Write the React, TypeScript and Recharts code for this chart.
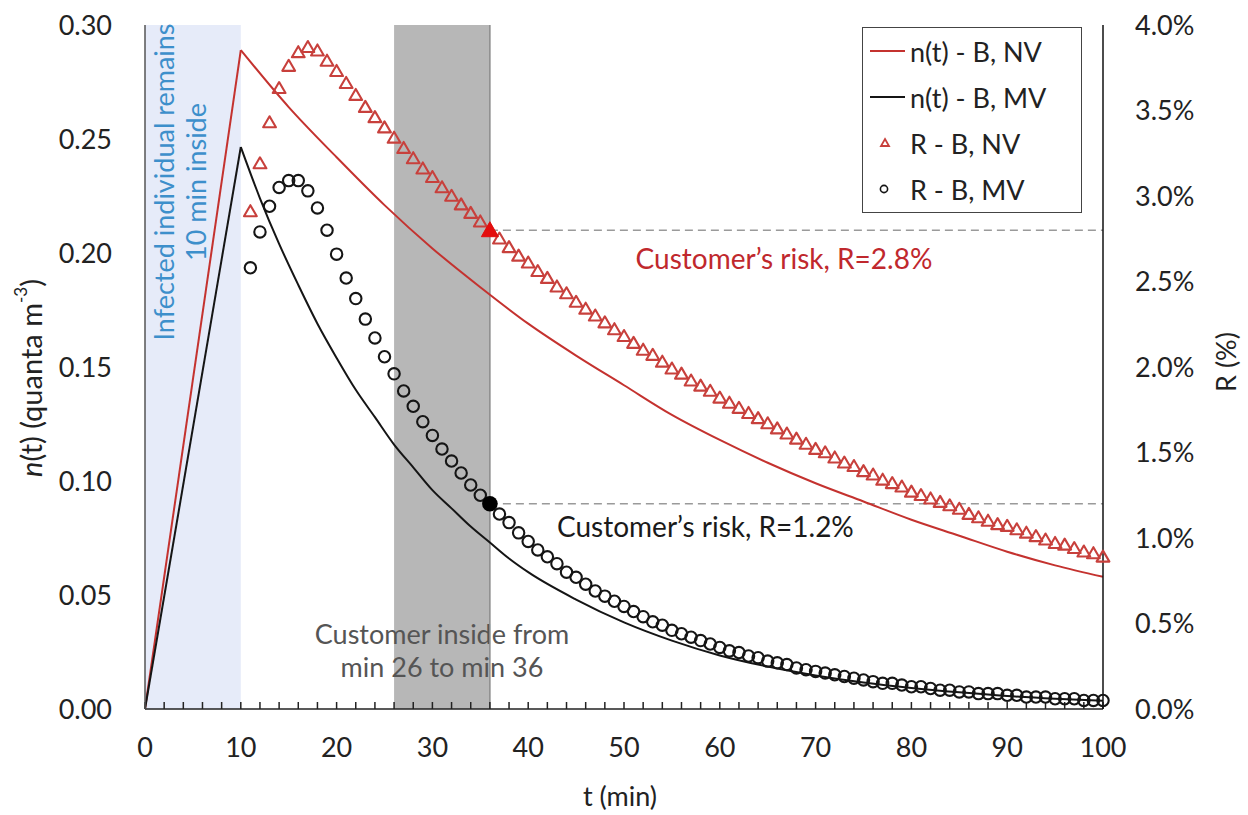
import React from 'react';
import {
  ComposedChart, Line, Scatter, XAxis, YAxis, ReferenceArea, ReferenceLine, ReferenceDot, Legend,
} from 'recharts';

const FONT = 'Lato, "Open Sans", sans-serif';
const RED = '#c4322f';
const RED_MARK = '#c8403c';
const BLACK = '#151515';

// x-axis ticks (minutes) and axis tick values
const X_TICKS = [0, 2, 4, 6, 8, 10, 12, 14, 16, 18, 20, 22, 24, 26, 28, 30, 32, 34, 36, 38, 40, 42, 44, 46, 48, 50,
  52, 54, 56, 58, 60, 62, 64, 66, 68, 70, 72, 74, 76, 78, 80, 82, 84, 86, 88, 90, 92, 94, 96, 98, 100];
const LEFT_TICKS = [0, 0.05, 0.1, 0.15, 0.2, 0.25, 0.3];
const RIGHT_TICKS = [0, 0.5, 1, 1.5, 2, 2.5, 3, 3.5, 4];

// n(t) - B, NV  (quanta m^-3): rise while infected is inside, then decay
const NV_RISE_T = [0, 10];
const NV_RISE_N = [0, 0.289];
const NV_DECAY_T = [10, 15, 20, 25, 30, 35, 40, 45, 50, 55, 60, 65, 70, 75, 80, 85, 90, 95, 100];
const NV_DECAY_N = [0.289, 0.264, 0.242, 0.221, 0.202, 0.185, 0.169, 0.155, 0.142, 0.129, 0.118, 0.108, 0.099,
  0.091, 0.083, 0.076, 0.069, 0.063, 0.058];

// n(t) - B, MV
const MV_RISE_T = [0, 10];
const MV_RISE_N = [0, 0.2465];
const MV_DECAY_T = [10, 12, 14, 16, 18, 20, 22, 24, 26, 28, 30, 32, 34, 36, 38, 40, 45, 50, 55, 60, 65, 70, 75,
  80, 85, 90, 95, 100];
const MV_DECAY_N = [0.2465, 0.224, 0.204, 0.186, 0.169, 0.154, 0.140, 0.128, 0.116, 0.106, 0.096, 0.088, 0.080,
  0.073, 0.066, 0.060, 0.048, 0.038, 0.030, 0.0235, 0.0186, 0.0147, 0.0116, 0.0092, 0.0073, 0.0057, 0.0045, 0.0036];

// R markers, one per minute from 11 to 100 (%)
const R_START_MIN = 11;
const R_NV = [
  2.91, 3.19, 3.43, 3.63, 3.76, 3.84, 3.87, 3.85, 3.79, 3.73,
  3.66, 3.59, 3.52, 3.46, 3.40, 3.34, 3.28, 3.22, 3.16, 3.11,
  3.05, 3.00, 2.95, 2.90, 2.85, 2.80, 2.75, 2.70, 2.65, 2.61,
  2.56, 2.52, 2.47, 2.43, 2.38, 2.34, 2.30, 2.26, 2.22, 2.18,
  2.14, 2.10, 2.07, 2.03, 1.99, 1.96, 1.92, 1.89, 1.86, 1.82,
  1.79, 1.76, 1.73, 1.70, 1.67, 1.64, 1.61, 1.58, 1.55, 1.52,
  1.50, 1.47, 1.44, 1.42, 1.39, 1.37, 1.34, 1.32, 1.30, 1.27,
  1.25, 1.23, 1.21, 1.19, 1.17, 1.14, 1.12, 1.10, 1.08, 1.07,
  1.05, 1.03, 1.01, 0.99, 0.97, 0.96, 0.94, 0.92, 0.91, 0.89,
];
const R_MV = [
  2.58, 2.79, 2.94, 3.05, 3.09, 3.09, 3.03, 2.93, 2.80, 2.66,
  2.52, 2.40, 2.28, 2.17, 2.06, 1.96, 1.86, 1.77, 1.68, 1.60,
  1.52, 1.45, 1.38, 1.31, 1.25, 1.20, 1.14, 1.09, 1.03, 0.98,
  0.93, 0.89, 0.85, 0.80, 0.77, 0.73, 0.69, 0.66, 0.63, 0.60,
  0.57, 0.54, 0.51, 0.49, 0.46, 0.44, 0.42, 0.40, 0.38, 0.36,
  0.34, 0.33, 0.31, 0.30, 0.28, 0.27, 0.26, 0.24, 0.23, 0.22,
  0.21, 0.20, 0.19, 0.18, 0.17, 0.16, 0.15, 0.15, 0.14, 0.13,
  0.13, 0.12, 0.11, 0.11, 0.10, 0.10, 0.09, 0.09, 0.09, 0.08,
  0.08, 0.07, 0.07, 0.07, 0.06, 0.06, 0.06, 0.05, 0.05, 0.05,
];

// highlighted customer exit point
const EXIT_MIN = 36;
const EXIT_R_NV = 2.8;
const EXIT_R_MV = 1.2;
const INFECTED_RANGE = [0, 10];
const CUSTOMER_RANGE = [26, 36];

const pairs = (ts: number[], ns: number[]) => ts.map((t, i) => ({ t, n: ns[i] }));
const nvRise = pairs(NV_RISE_T, NV_RISE_N);
const nvDecay = pairs(NV_DECAY_T, NV_DECAY_N);
const mvRise = pairs(MV_RISE_T, MV_RISE_N);
const mvDecay = pairs(MV_DECAY_T, MV_DECAY_N);
const rNV = R_NV.map((r, i) => ({ t: R_START_MIN + i, r }));
const rMV = R_MV.map((r, i) => ({ t: R_START_MIN + i, r }));
const exitNV = [{ t: EXIT_MIN, r: EXIT_R_NV }];
const exitMV = [{ t: EXIT_MIN, r: EXIT_R_MV }];

const Tri = (p: any) => {
  const { cx, cy } = p;
  if (cx == null || cy == null) return <g />;
  return <path d={`M${cx},${cy - 6.2} L${cx + 6.4},${cy + 4.8} L${cx - 6.4},${cy + 4.8} Z`} fill="none" stroke={RED_MARK} strokeWidth={2.1} strokeLinejoin="round" />;
};
const Circ = (p: any) => {
  const { cx, cy } = p;
  if (cx == null || cy == null) return <g />;
  return <circle cx={cx} cy={cy} r={5.7} fill="none" stroke={BLACK} strokeWidth={2.1} />;
};
const TriFilled = (p: any) => {
  const { cx, cy } = p;
  if (cx == null || cy == null) return <g />;
  return <path d={`M${cx},${cy - 8.5} L${cx + 8.5},${cy + 6.5} L${cx - 8.5},${cy + 6.5} Z`} fill="#e30d0d" stroke="#e30d0d" />;
};
const CircFilled = (p: any) => {
  const { cx, cy } = p;
  if (cx == null || cy == null) return <g />;
  return <circle cx={cx} cy={cy} r={7.8} fill="#000" />;
};

const textLabel = (lines: string[], color: string, size: number, lh: number) => (props: any) => {
  const vb = props.viewBox || { x: 0, y: 0, width: 0, height: 0 };
  const cx = vb.x + vb.width / 2;
  const cy = vb.y + vb.height / 2;
  const y0 = cy - ((lines.length - 1) * lh) / 2;
  return (
    <text textAnchor="middle" fill={color} fontSize={size} fontFamily={FONT}>
      {lines.map((l, i) => (
        <tspan key={i} x={cx} y={y0 + i * lh} dominantBaseline="central">{l}</tspan>
      ))}
    </text>
  );
};

const blueLabel = (props: any) => {
  const vb = props.viewBox || { x: 0, y: 0, width: 0, height: 0 };
  const cy = vb.y + 157;
  return (
    <g fill="#3d8fcb" fontSize={27} fontFamily={FONT}>
      <text transform={`translate(${vb.x + 18},${cy}) rotate(-90)`} textAnchor="middle" dominantBaseline="central">Infected individual remains</text>
      <text transform={`translate(${vb.x + 50},${cy}) rotate(-90)`} textAnchor="middle" dominantBaseline="central">10 min inside</text>
    </g>
  );
};

const grayLabel = (props: any) => {
  const vb = props.viewBox || { x: 0, y: 0, width: 0, height: 0 };
  const cx = vb.x + vb.width / 2;
  const y1 = vb.y + vb.height - 76;
  return (
    <text textAnchor="middle" fill="#555" fontSize={27} fontFamily={FONT}>
      <tspan x={cx} y={y1} dominantBaseline="central">Customer inside from</tspan>
      <tspan x={cx} y={y1 + 33} dominantBaseline="central">min 26 to min 36</tspan>
    </text>
  );
};

const xTitle = (props: any) => {
  const vb = props.viewBox || { x: 0, y: 0, width: 0, height: 0 };
  return (
    <text x={vb.x + vb.width / 2 - 4} y={vb.y + 86} textAnchor="middle" dominantBaseline="central" fill="#222" fontSize={27} fontFamily={FONT}>t (min)</text>
  );
};

const leftTitle = (props: any) => {
  const vb = props.viewBox || { x: 0, y: 0, width: 0, height: 0 };
  const cy = vb.y + 353;
  return (
    <text transform={`translate(${vb.x + 30},${cy}) rotate(-90)`} textAnchor="middle" dominantBaseline="central" fill="#222" fontSize={29} fontFamily={FONT}>
      <tspan fontStyle="italic">n</tspan>
      <tspan>(t) (quanta m</tspan>
      <tspan fontSize={17} dy={-10}>-3</tspan>
      <tspan dy={10}>)</tspan>
    </text>
  );
};

const rightTitle = (props: any) => {
  const vb = props.viewBox || { x: 0, y: 0, width: 0, height: 0 };
  return (
    <text transform={`translate(${vb.x + vb.width + 22},${vb.y + 337}) rotate(-90)`} textAnchor="middle" dominantBaseline="central" fill="#222" fontSize={27} fontFamily={FONT}>R (%)</text>
  );
};

const LEGEND_ITEMS = [
  { name: 'n(t) - B, NV', kind: 'line', color: RED },
  { name: 'n(t) - B, MV', kind: 'line', color: BLACK },
  { name: 'R - B, NV', kind: 'tri', color: RED_MARK },
  { name: 'R - B, MV', kind: 'circ', color: BLACK },
];

const renderLegend = () => (
  <div style={{
    width: 220, height: 186, boxSizing: 'border-box', border: '1.5px solid #444', background: '#fff',
    fontFamily: FONT, fontSize: 27, color: '#222',
  }}>
    {LEGEND_ITEMS.map((it) => (
      <div key={it.name} style={{ display: 'flex', alignItems: 'center', height: 46 }}>
        <svg width={47} height={20} style={{ flex: 'none' }}>
          {it.kind === 'line' && <line x1={7} y1={10} x2={42} y2={10} stroke={it.color} strokeWidth={2} />}
          {it.kind === 'tri' && <path d="M22,6 L26,13 L18,13 Z" fill="none" stroke={it.color} strokeWidth={1.8} />}
          {it.kind === 'circ' && <circle cx={21} cy={10} r={3.6} fill="none" stroke={it.color} strokeWidth={1.6} />}
        </svg>
        <span style={{ whiteSpace: 'nowrap' }}>{it.name}</span>
      </div>
    ))}
  </div>
);

const tickStyle = { fontSize: 27, fill: '#222', fontFamily: FONT };

export default function App() {
  return (
    <div style={{ position: 'absolute', left: 0, top: 0, width: 1248, height: 815, background: '#fff' }}>
      <ComposedChart width={1248} height={815} margin={{ top: 25, right: 45, bottom: 46, left: 0 }}>
        <XAxis
          type="number" dataKey="t" domain={[0, 100]} ticks={X_TICKS} interval={0}
          tickFormatter={(v: number) => (v % 10 === 0 ? String(v) : '')}
          tickSize={-7} tickMargin={36} height={60}
          tick={tickStyle}
          axisLine={{ stroke: '#222', strokeWidth: 1.5 }} tickLine={{ stroke: '#222', strokeWidth: 1.5 }}
          label={{ content: xTitle }}
        />
        <YAxis
          yAxisId="left" type="number" domain={[0, 0.3]} ticks={LEFT_TICKS} interval={0}
          tickFormatter={(v: number) => v.toFixed(2)} width={145} tickLine={false} tickMargin={27}
          tick={tickStyle}
          axisLine={{ stroke: '#555', strokeWidth: 1.5 }}
          label={{ content: leftTitle }}
        />
        <YAxis
          yAxisId="right" orientation="right" type="number" domain={[0, 4]} ticks={RIGHT_TICKS} interval={0}
          tickFormatter={(v: number) => `${v.toFixed(1)}%`} width={100} tickLine={false} tickMargin={26}
          tick={tickStyle}
          axisLine={{ stroke: '#111', strokeWidth: 1.5 }}
          label={{ content: rightTitle }}
        />
        <ReferenceArea yAxisId="left" x1={INFECTED_RANGE[0]} x2={INFECTED_RANGE[1]} fill="#e6ebf9" fillOpacity={1} stroke="none" label={{ content: blueLabel }} />
        <ReferenceArea yAxisId="left" x1={CUSTOMER_RANGE[0]} x2={CUSTOMER_RANGE[1]} fill="#b7b7b7" fillOpacity={1} stroke="none" label={{ content: grayLabel }} />
        <ReferenceLine yAxisId="left" x={CUSTOMER_RANGE[1]} stroke="#8a8a8a" strokeWidth={1.5} />
        <ReferenceLine yAxisId="right" segment={[{ x: EXIT_MIN, y: EXIT_R_NV }, { x: 100, y: EXIT_R_NV }]} stroke="#9a9a9a" strokeWidth={1.5} strokeDasharray="8 5" />
        <ReferenceLine yAxisId="right" segment={[{ x: EXIT_MIN, y: EXIT_R_MV }, { x: 100, y: EXIT_R_MV }]} stroke="#9a9a9a" strokeWidth={1.5} strokeDasharray="8 5" />
        <ReferenceDot yAxisId="right" x={66.7} y={2.64} r={1} fill="none" stroke="none" label={{ content: textLabel(['Customer’s risk, R=2.8%'], '#c0282d', 28, 30) }} />
        <ReferenceDot yAxisId="right" x={58.5} y={1.07} r={1} fill="none" stroke="none" label={{ content: textLabel(['Customer’s risk, R=1.2%'], '#1a1a1a', 28, 30) }} />
        <Line yAxisId="left" data={nvRise} dataKey="n" type="linear" stroke={RED} strokeWidth={2} dot={false} isAnimationActive={false} legendType="none" />
        <Line yAxisId="left" data={nvDecay} dataKey="n" type="monotone" stroke={RED} strokeWidth={2} dot={false} isAnimationActive={false} legendType="none" />
        <Line yAxisId="left" data={mvRise} dataKey="n" type="linear" stroke={BLACK} strokeWidth={2} dot={false} isAnimationActive={false} legendType="none" />
        <Line yAxisId="left" data={mvDecay} dataKey="n" type="monotone" stroke={BLACK} strokeWidth={2} dot={false} isAnimationActive={false} legendType="none" />
        <Scatter yAxisId="right" data={rNV} dataKey="r" shape={Tri} isAnimationActive={false} legendType="none" />
        <Scatter yAxisId="right" data={rMV} dataKey="r" shape={Circ} isAnimationActive={false} legendType="none" />
        <Scatter yAxisId="right" data={exitNV} dataKey="r" shape={TriFilled} isAnimationActive={false} legendType="none" />
        <Scatter yAxisId="right" data={exitMV} dataKey="r" shape={CircFilled} isAnimationActive={false} legendType="none" />
        <Legend
          layout="vertical" align="center" verticalAlign="middle" content={renderLegend}
          wrapperStyle={{ position: 'absolute', left: 862, top: 27, width: 220, height: 186 }}
        />
      </ComposedChart>
    </div>
  );
}
